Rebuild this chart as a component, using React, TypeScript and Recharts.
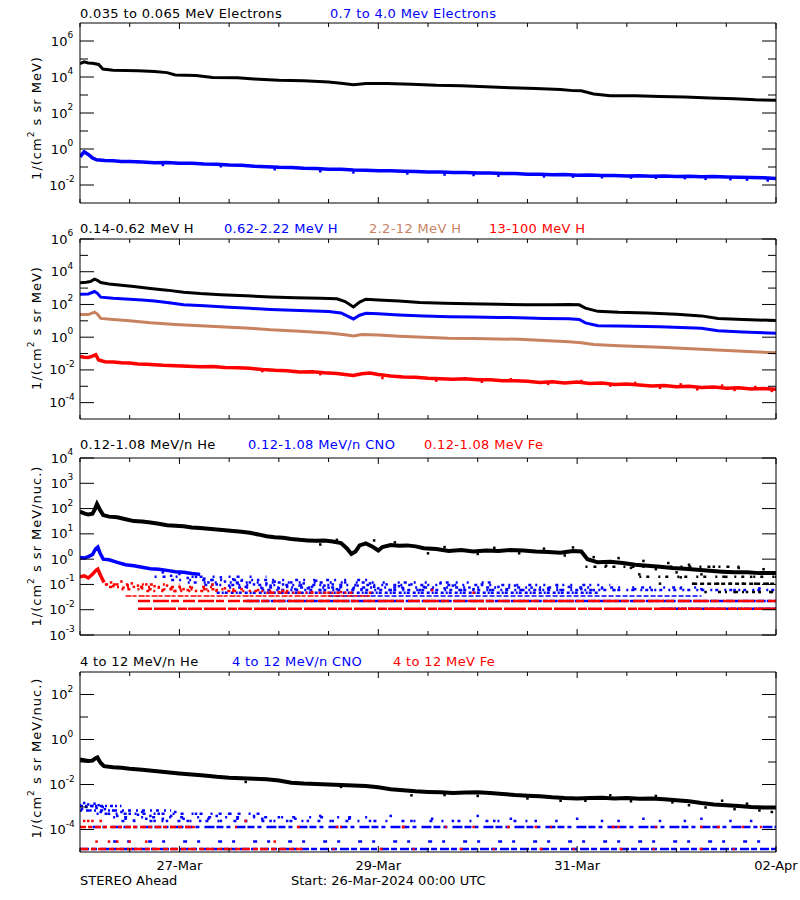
import React from 'react'
import { ComposedChart, Line, Scatter, XAxis, YAxis } from 'recharts'

const FONT = '"DejaVu Sans", Verdana, sans-serif'
const BLUE = '#0000ff'
const RED = '#ff0000'
const TAN = '#c8825f'

// time axis: hours since 26-Mar-2024 00:00
const hourTicks = [0, 12, 24, 36, 48, 60, 72, 84, 96, 108, 120, 132, 144, 156, 168]
const dateTickHours = [24, 72, 120, 168]
const dateTickLabels = ['27-Mar', '29-Mar', '31-Mar', '02-Apr']

// panel 1 - electrons
const elecLoT = [0, 1, 2, 3, 4.5, 5.5, 8, 14, 18, 21, 23, 28, 32, 38, 42, 48, 54, 60, 63, 66, 69, 74, 80, 86, 92, 98, 104, 110, 116, 119, 121, 124, 128, 134, 140, 146, 152, 158, 163, 168]
const elecLoV = [5.5e4, 7e4, 6e4, 5.8e4, 5e4, 2.8e4, 2.4e4, 2.2e4, 2e4, 1.75e4, 1.3e4, 1.2e4, 9.5e3, 9e3, 7.8e3, 6.6e3, 6.2e3, 5.2e3, 4.5e3, 3.7e3, 4.4e3, 4.3e3, 4e3, 3.5e3, 3.3e3, 2.9e3, 2.5e3, 2.3e3, 2.0e3, 1.75e3, 1.7e3, 1.15e3, 920, 900, 820, 780, 680, 620, 540, 510]
const elecHiT = [0, 1, 2, 3, 4, 6, 8, 10, 12, 15, 18, 21, 24, 27, 30, 33, 36, 39, 42, 45, 48, 51, 54, 57, 60, 63, 66, 69, 72, 75, 78, 81, 84, 87, 90, 93, 96, 99, 102, 105, 108, 111, 114, 117, 120, 123, 126, 129, 132, 135, 138, 141, 144, 147, 150, 153, 156, 159, 162, 165, 168]
const elecHiV = [0.37, 0.7, 0.5, 0.32, 0.25, 0.23, 0.22, 0.205, 0.2, 0.19, 0.172, 0.175, 0.16, 0.162, 0.148, 0.142, 0.128, 0.124, 0.11, 0.104, 0.096, 0.094, 0.084, 0.083, 0.075, 0.074, 0.068, 0.067, 0.062, 0.062, 0.058, 0.056, 0.053, 0.052, 0.049, 0.049, 0.046, 0.046, 0.043, 0.043, 0.04, 0.04, 0.037, 0.038, 0.035, 0.036, 0.034, 0.034, 0.032, 0.033, 0.031, 0.032, 0.03, 0.031, 0.029, 0.03, 0.028, 0.027, 0.026, 0.025, 0.023]
const elecHiDotT = [20, 34, 47, 58, 66, 79, 88, 95, 101, 112, 119, 126, 133, 139, 146, 151, 157, 161, 166]
const elecHiDotV = [0.13, 0.11, 0.075, 0.058, 0.05, 0.044, 0.038, 0.036, 0.033, 0.03, 0.029, 0.027, 0.026, 0.025, 0.024, 0.022, 0.021, 0.02, 0.018]

// panel 2 - protons
const hBlackT = [0, 1.5, 2.5, 3.5, 4.2, 5, 7, 10, 13, 17, 21, 25, 29, 34, 40, 46, 52, 58, 62, 64, 66, 67.5, 69, 72, 77, 82, 88, 94, 101, 108, 114, 118, 120.5, 122, 125, 130, 137, 144, 150, 154, 160, 168]
const hBlackV = [2100, 2300, 2500, 3500, 3000, 2200, 1800, 1500, 1250, 950, 750, 560, 460, 390, 340, 290, 260, 240, 220, 150, 70, 140, 210, 190, 160, 130, 120, 112, 102, 95, 96, 100, 95, 60, 38, 33, 30, 25, 20, 14, 12, 10.5]
const hBlueT = [0, 2, 3.5, 4.2, 5, 8, 12, 15, 18, 21, 25, 30, 36, 41, 46, 53, 60, 63, 66, 67.5, 69, 72, 77, 83, 89, 95, 101, 106, 112, 118, 120.5, 122, 125, 130, 140, 150, 154, 160, 168]
const hBlueV = [420, 440, 620, 480, 280, 240, 210, 190, 165, 130, 95, 82, 68, 58, 50, 42, 37, 30, 13, 22, 29, 27, 23, 20, 18, 17, 16, 15.5, 14, 13.5, 12, 7.5, 5, 4.8, 4.4, 3.5, 2.5, 2.1, 1.74]
const hTanT = [0, 2, 3.5, 4.2, 5, 8, 12, 17, 23, 29, 35, 41, 46, 53, 60, 64, 66, 68, 72, 77, 83, 89, 95, 101, 106, 112, 118, 121, 124, 130, 140, 150, 160, 168]
const hTanV = [24, 24, 34, 26, 14, 12, 10, 7.6, 6.0, 5.0, 4.2, 3.5, 2.8, 2.3, 1.8, 1.4, 1.2, 1.45, 1.35, 1.15, 0.98, 0.85, 0.82, 0.78, 0.74, 0.62, 0.52, 0.46, 0.36, 0.3, 0.24, 0.18, 0.14, 0.11]
const hRedT = [0, 1, 2, 3, 3.8, 4.5, 6, 8, 10, 12, 14, 16, 18, 20, 23, 26, 29, 32, 35, 38, 41, 44, 47, 50, 53, 56, 59, 62, 64, 66, 68, 70, 72, 75, 78, 81, 84, 87, 90, 93, 96, 99, 102, 105, 108, 111, 114, 117, 120, 123, 126, 129, 132, 135, 138, 141, 144, 147, 150, 153, 156, 159, 162, 165, 168]
const hRedV = [0.065, 0.06, 0.058, 0.07, 0.085, 0.04, 0.032, 0.03, 0.027, 0.026, 0.023, 0.022, 0.021, 0.019, 0.018, 0.017, 0.0155, 0.016, 0.014, 0.0135, 0.0125, 0.0105, 0.0095, 0.009, 0.0075, 0.0078, 0.0066, 0.006, 0.0052, 0.0046, 0.0058, 0.0064, 0.0052, 0.0043, 0.0037, 0.0036, 0.0031, 0.0029, 0.0027, 0.0029, 0.0025, 0.0025, 0.0022, 0.0022, 0.002, 0.0017, 0.0019, 0.0016, 0.0018, 0.0015, 0.0016, 0.0013, 0.0014, 0.0012, 0.00105, 0.0011, 0.00095, 0.001, 0.00085, 0.0009, 0.00075, 0.0008, 0.00068, 0.00072, 0.00065]
const hRedDotT = [44, 58, 73, 86, 97, 104, 113, 121, 128, 134, 140, 145, 149, 155, 158, 163, 167]
const hRedDotV = [0.0085, 0.0055, 0.0032, 0.0022, 0.0019, 0.0027, 0.0014, 0.0021, 0.0011, 0.0016, 0.0008, 0.0013, 0.00065, 0.0011, 0.0006, 0.0009, 0.00052]

// panel 3 - 0.12-1.08 MeV/n ions
const he3T = [0, 1, 2, 3, 3.6, 4.1, 4.8, 5.6, 7, 9, 11, 13, 15, 17, 19, 21, 23, 25, 27, 29, 31, 33, 35, 37, 39, 41, 43, 45, 47, 49, 51, 53, 55, 57, 59, 61, 63, 64.5, 65.5, 66.5, 67.5, 69, 70.5, 72, 73, 75, 77, 79, 81, 83, 86, 89, 92, 95, 98, 101, 104, 107, 110, 113, 116, 119, 121, 122.5, 125, 128, 131, 134, 137, 140, 143, 146, 149, 152, 155, 158, 161, 164, 168]
const he3V = [75, 65, 58, 62, 95, 150, 90, 55, 48, 45, 38, 32, 31, 28, 25, 22, 21, 20, 18, 17, 16, 15, 14, 13, 12, 11, 9.5, 8, 7.4, 7, 6.3, 5.8, 5.5, 5.3, 5.4, 5.0, 4.3, 2.6, 1.6, 2.0, 3.5, 4.2, 3.2, 2.2, 3.0, 3.6, 3.4, 3.5, 3.2, 2.7, 2.5, 2.1, 2.3, 2.0, 2.2, 2.1, 2.3, 2.2, 2.0, 1.9, 1.8, 2.1, 2.0, 1.0, 0.75, 0.78, 0.7, 0.6, 0.55, 0.5, 0.45, 0.42, 0.38, 0.35, 0.32, 0.3, 0.3, 0.28, 0.28]
const he3DotT = [58, 62, 71, 76, 84, 88, 96, 100, 106, 112, 117, 119, 124, 127, 130, 133, 135, 136, 139, 140, 142, 144, 145, 147, 148, 150, 151, 153, 154, 156, 157, 158, 159, 160, 161, 162, 163, 164, 165, 166, 167, 168]
const he3DotV = [3.8, 5.8, 5.5, 4.6, 1.7, 3.0, 1.6, 2.8, 1.7, 2.6, 1.4, 2.9, 1.2, 0.55, 1.1, 0.45, 0.25, 0.85, 0.4, 0.107, 0.7, 0.3, 0.19, 0.6, 0.107, 0.25, 0.05, 0.5, 0.107, 0.2, 0.107, 0.05, 0.45, 0.107, 0.05, 0.2, 0.107, 0.05, 0.4, 0.107, 0.05, 0.2]
const he3RowLevel = [0.5, 0.2, 0.107, 0.05]
const he3RowStart = [122, 135, 148, 154]
const he3RowEnd = [160, 168, 168, 168]
const cno3T = [0, 1, 2, 3, 3.8, 4.3, 4.8, 5.6, 7, 9, 11, 13, 15, 17, 19, 21, 23, 25, 27, 29]
const cno3V = [1.15, 1.1, 1.25, 1.5, 2.6, 3.0, 1.8, 1.0, 0.95, 0.75, 0.6, 0.55, 0.48, 0.42, 0.4, 0.36, 0.32, 0.3, 0.27, 0.25]
const cno3DotT = [20, 22, 24, 26, 28, 30, 31, 32, 33, 34, 35, 36, 37, 38, 39, 40, 41, 42, 43, 44, 45, 46, 47, 48, 49, 50, 51, 52, 53, 54, 55, 56, 57, 58, 59, 60, 61, 62, 63, 64, 66, 67, 68, 70, 71, 72, 74, 75, 77, 78, 80, 82, 83, 85, 87, 88, 90, 92, 94, 95, 97, 99, 101, 103, 105, 107, 109, 111, 113, 116, 118, 121, 124, 126, 129, 134, 138, 145, 150, 158, 164]
const cno3DotV = [0.3, 0.22, 0.26, 0.18, 0.2, 0.17, 0.12, 0.15, 0.1, 0.19, 0.13, 0.09, 0.16, 0.11, 0.14, 0.08, 0.12, 0.1, 0.15, 0.07, 0.11, 0.09, 0.13, 0.07, 0.1, 0.08, 0.12, 0.065, 0.09, 0.11, 0.07, 0.08, 0.14, 0.06, 0.09, 0.075, 0.1, 0.065, 0.08, 0.12, 0.07, 0.09, 0.065, 0.11, 0.08, 0.07, 0.1, 0.06, 0.085, 0.07, 0.1, 0.06, 0.08, 0.065, 0.11, 0.07, 0.09, 0.06, 0.075, 0.065, 0.1, 0.06, 0.08, 0.065, 0.09, 0.06, 0.075, 0.062, 0.07, 0.06, 0.08, 0.065, 0.06, 0.07, 0.06, 0.065, 0.06, 0.07, 0.065, 0.06, 0.07]
// CNO cloud rows (quantized count levels)
const cno3CloudLevel = [0.2, 0.15, 0.12, 0.095, 0.075, 0.06]
const cno3CloudStart = [18, 22, 26, 30, 36, 44]
const cno3CloudEnd = [45, 70, 100, 128, 150, 168]
const fe3T = [0, 1, 2, 3, 3.8, 4.3, 5, 5.8]
const fe3V = [0.2, 0.22, 0.18, 0.25, 0.35, 0.4, 0.22, 0.12]
const fe3DotT = [6.5, 7.5, 8, 9, 10, 10.5, 11.5, 12.5, 13, 14, 15, 16, 17, 18, 19, 20, 21, 22, 23, 24, 25, 26, 27, 28, 30, 32, 33, 35, 37, 39, 41, 43, 46, 48, 50, 53, 56, 60, 63, 70, 85, 95]
const fe3DotV = [0.1, 0.12, 0.085, 0.1, 0.13, 0.075, 0.095, 0.11, 0.08, 0.09, 0.07, 0.1, 0.065, 0.085, 0.075, 0.06, 0.09, 0.07, 0.055, 0.08, 0.065, 0.06, 0.075, 0.055, 0.065, 0.1, 0.06, 0.07, 0.055, 0.065, 0.055, 0.06, 0.047, 0.05, 0.055, 0.047, 0.05, 0.047, 0.05, 0.047, 0.06, 0.047]
const fe3CloudLevel = [0.1, 0.08, 0.065, 0.055]
const fe3CloudStart = [6, 7, 10, 16]
const fe3CloudEnd = [24, 32, 40, 50]
// count-rate floors that show up as rows of points
const cno3BandLevel = [0.047, 0.035, 0.022, 0.011]
const cno3BandStart = [33, 60, 40, 140]
const cno3BandEnd = [125, 150, 168, 168]
const fe3BandLevel = [0.047, 0.035, 0.022, 0.011]
const fe3BandStart = [45, 11, 14, 14]
const fe3BandEnd = [66, 70, 168, 168]

// panel 4 - 4 to 12 MeV/n ions
const he4T = [0, 1, 2, 3, 3.6, 4.2, 5, 5.8, 8, 10, 12, 15, 18, 21, 24, 27, 30, 33, 36, 39, 42, 45, 48, 51, 54, 57, 60, 63, 66, 69, 72, 75, 78, 81, 84, 87, 90, 93, 96, 99, 102, 105, 108, 111, 114, 117, 120, 123, 126, 129, 132, 135, 138, 141, 144, 147, 150, 153, 156, 159, 162, 165, 168]
const he4V = [0.13, 0.12, 0.11, 0.115, 0.14, 0.16, 0.09, 0.065, 0.058, 0.055, 0.05, 0.045, 0.04, 0.035, 0.031, 0.028, 0.025, 0.022, 0.02, 0.019, 0.018, 0.017, 0.015, 0.012, 0.011, 0.0105, 0.01, 0.0095, 0.009, 0.0085, 0.0075, 0.0062, 0.0055, 0.005, 0.0047, 0.0045, 0.0042, 0.0044, 0.0045, 0.0042, 0.0038, 0.0034, 0.0032, 0.003, 0.0027, 0.0025, 0.0024, 0.0025, 0.0026, 0.0024, 0.0025, 0.0023, 0.0024, 0.0022, 0.002, 0.0018, 0.0015, 0.0013, 0.0012, 0.0011, 0.001, 0.00095, 0.00095]
const he4DotT = [40, 63, 80, 88, 96, 108, 116, 122, 128, 133, 139, 143, 147, 151, 155, 158, 161, 164, 167]
const he4DotV = [0.013, 0.0078, 0.0033, 0.0034, 0.0031, 0.0024, 0.0019, 0.0019, 0.0033, 0.0018, 0.0031, 0.0016, 0.0012, 0.00095, 0.0019, 0.0008, 0.0014, 0.0007, 0.0006]
const cno4DotT = [0, 0.5, 1, 1.5, 2, 2.5, 3, 3.5, 4, 4.5, 5, 5.5, 6, 7, 8, 9, 10, 11, 12, 13, 14, 15, 16, 17, 18, 19, 20, 21, 22, 23, 25, 26, 28, 29, 31, 33, 34, 36, 38, 40, 42, 44, 46, 48, 50, 52, 55, 58, 61, 65, 70, 75, 80, 85, 90, 96, 100, 104, 110, 115, 120, 126, 130, 136, 140, 146, 150, 157, 162]
const cno4DotV = [1.2e-3, 8e-4, 1.5e-3, 1.0e-3, 1.3e-3, 7e-4, 1.1e-3, 1.4e-3, 9e-4, 1.2e-3, 6e-4, 1.0e-3, 8e-4, 5e-4, 7e-4, 4e-4, 6e-4, 3e-4, 5e-4, 2.5e-4, 4.5e-4, 6e-4, 3e-4, 4e-4, 2.4e-4, 5e-4, 3e-4, 2.4e-4, 4e-4, 6e-4, 3e-4, 2.4e-4, 5e-4, 2.4e-4, 3e-4, 4e-4, 2.4e-4, 5e-4, 3e-4, 2.4e-4, 4e-4, 3e-4, 2.4e-4, 3.5e-4, 2.4e-4, 3e-4, 2.4e-4, 4e-4, 2.4e-4, 3e-4, 2.4e-4, 4e-4, 2.4e-4, 3e-4, 2.4e-4, 4e-4, 2.4e-4, 3e-4, 2.4e-4, 2.4e-4, 3e-4, 2.4e-4, 2.4e-4, 3e-4, 2.4e-4, 2.4e-4, 3e-4, 2.4e-4, 2.4e-4]
const cno4CloudLevel = [1.1e-3, 7e-4, 5e-4, 3.5e-4]
const cno4CloudStart = [0, 0, 4, 8]
const cno4CloudEnd = [10, 22, 45, 70]
const fe4DotT = [1, 2, 3, 4, 5, 7, 9, 12, 16, 22, 40, 47, 62, 78, 95, 110, 130, 150, 160]
const fe4DotV = [2.4e-4, 2.4e-4, 2.4e-4, 2.9e-5, 2.4e-4, 2.9e-5, 2.9e-5, 2.9e-5, 2.9e-5, 1.3e-4, 2.4e-4, 2.9e-5, 1.3e-4, 1.3e-4, 1.3e-4, 1.3e-4, 1.3e-4, 1.3e-4, 1.3e-4]
const cno4BandLevel = [2.4e-4, 1.3e-4, 2.9e-5, 1.35e-5]
const cno4BandStart = [10, 3, 8, 0]
const cno4BandEnd = [110, 168, 168, 168]
const fe4BandLevel = [1.3e-4, 1.3e-4, 1.35e-5, 1.35e-5]
const fe4BandStart = [0, 27, 0, 53]
const fe4BandEnd = [27, 168, 53, 168]

// y axes: decades shown, and which of them carry a label
const p1Exps = [-2, -1, 0, 1, 2, 3, 4, 5, 6]
const p1Labeled = [-2, 0, 2, 4, 6]
const p2Exps = [-4, -3, -2, -1, 0, 1, 2, 3, 4, 5, 6]
const p2Labeled = [-4, -2, 0, 2, 4, 6]
const p3Exps = [-3, -2, -1, 0, 1, 2, 3, 4]
const p3Labeled = [-3, -2, -1, 0, 1, 2, 3, 4]
const p4Exps = [-4, -3, -2, -1, 0, 1, 2]
const p4Labeled = [-4, -2, 0, 2]

const p1Titles = ['0.035 to 0.065 MeV Electrons', '0.7 to 4.0 Mev Electrons']
const p2Titles = ['0.14-0.62 MeV H', '0.62-2.22 MeV H', '2.2-12 MeV H', '13-100 MeV H']
const p3Titles = ['0.12-1.08 MeV/n He', '0.12-1.08 MeV/n CNO', '0.12-1.08 MeV Fe']
const p4Titles = ['4 to 12 MeV/n He', '4 to 12 MeV/n CNO', '4 to 12 MeV Fe']

type Pt = { t: number; v: number }
const pts = (t: number[], v: number[]): Pt[] => t.map((x, i) => ({ t: x, v: v[i] }))

const PL = 80
const PR = 776
const TOP_H = 12

const line = (key: string, data: Pt[], color: string, w = 3) => (
  <Line key={key} xAxisId="b" yAxisId="l" data={data} dataKey="v" type="linear" stroke={color}
    strokeWidth={w} dot={false} activeDot={false} isAnimationActive={false} />
)

const dots = (key: string, data: Pt[], color: string, size = 2) => (
  <Scatter key={key} xAxisId="b" yAxisId="l" data={data} dataKey="v" fill={color} isAnimationActive={false}
    shape={(p: any) => <rect x={p.cx - size / 2} y={p.cy - size / 2} width={size} height={size} fill={color} />} />
)

const band = (key: string, level: number, start: number, end: number, color: string, dash: string, w = 2.5) => (
  <Line key={key} xAxisId="b" yAxisId="l" data={[{ t: start, v: level }, { t: end, v: level }]} dataKey="v"
    stroke={color} strokeWidth={w} strokeDasharray={dash} dot={false} activeDot={false} isAnimationActive={false} />
)

const rows = (key: string, levels: number[], starts: number[], ends: number[], color: string, dashes: string[], w = 2.5) =>
  levels.map((lv, i) => band(`${key}${i}`, lv, starts[i], ends[i], color, dashes[i % dashes.length], w))

const leftTick = (labeled: number[]) => (p: any) => {
  const e = Math.round(Math.log10(p.payload.value))
  const major = labeled.includes(e)
  return (
    <g>
      <line x1={PL} x2={PL + (major ? 14 : 8)} y1={p.y} y2={p.y} stroke="#000" />
      {major && (
        <text x={62} y={p.y} textAnchor="middle" dominantBaseline="central" fontSize={13} fontFamily={FONT} fill="#000">
          10<tspan dy={-6} fontSize={9}>{e}</tspan>
        </text>
      )}
    </g>
  )
}

const rightTick = (labeled: number[]) => (p: any) => {
  const e = Math.round(Math.log10(p.payload.value))
  const len = labeled.includes(e) ? 14 : 8
  return <line x1={PR - len} x2={PR} y1={p.y} y2={p.y} stroke="#000" />
}

const topTick = (p: any) => {
  const t = p.payload.value
  const len = dateTickHours.includes(t) ? 6 : 4
  return <line x1={p.x} x2={p.x} y1={TOP_H} y2={TOP_H + len} stroke="#000" />
}

const bottomTick = (bottom: number, showDates: boolean) => (p: any) => {
  const t = p.payload.value
  const i = dateTickHours.indexOf(t)
  const len = i >= 0 ? 6 : 4
  return (
    <g>
      <line x1={p.x} x2={p.x} y1={bottom} y2={bottom - len} stroke="#000" />
      {showDates && i >= 0 && (
        <text x={p.x} y={bottom + 18} textAnchor="middle" fontSize={13} fontFamily={FONT} fill="#000">
          {dateTickLabels[i]}
        </text>
      )}
    </g>
  )
}

type PanelProps = {
  top: number
  height: number
  exps: number[]
  labeled: number[]
  domain: [number, number]
  showDates?: boolean
  children: React.ReactNode
}

function Panel({ top, height, exps, labeled, domain, showDates = false, children }: PanelProps) {
  const bottomH = showDates ? 40 : 12
  const ticks = exps.map((e) => Math.pow(10, e))
  return (
    <div style={{ position: 'absolute', left: 0, top: top - TOP_H }}>
      <ComposedChart width={800} height={height + TOP_H + bottomH} margin={{ top: 0, right: 0, bottom: 0, left: 0 }}>
        <XAxis xAxisId="b" dataKey="t" type="number" domain={[0, 168]} ticks={hourTicks} interval={0}
          orientation="bottom" height={bottomH} allowDataOverflow stroke="#000" tickLine={false}
          tick={bottomTick(TOP_H + height, showDates)} />
        <XAxis xAxisId="t" dataKey="t" type="number" domain={[0, 168]} ticks={hourTicks} interval={0}
          orientation="top" height={TOP_H} allowDataOverflow stroke="#000" tickLine={false} tick={topTick} />
        <YAxis yAxisId="l" scale="log" type="number" domain={domain} ticks={ticks} interval={0} width={PL}
          allowDataOverflow stroke="#000" tickLine={false} tickSize={0} tick={leftTick(labeled)} />
        <YAxis yAxisId="r" orientation="right" scale="log" type="number" domain={domain} ticks={ticks} interval={0}
          width={800 - PR} allowDataOverflow stroke="#000" tickLine={false} tickSize={0} tick={rightTick(labeled)} />
        {children}
      </ComposedChart>
    </div>
  )
}

const titleRow = (y: number, labels: string[], xs: number[], colors: string[]) =>
  labels.map((s, i) => (
    <text key={s} x={xs[i]} y={y} fontSize={13} letterSpacing={0.35} fill={colors[i]}>{s}</text>
  ))

const yLabel = (cy: number, unit: string) => (
  <text transform={`translate(36 ${cy}) rotate(-90)`} textAnchor="middle" dominantBaseline="central"
    fontSize={13} letterSpacing={1}>
    1/(cm<tspan dy={-5} fontSize={9}>2</tspan><tspan dy={5}> s sr {unit})</tspan>
  </text>
)

const cloudDash = ['2 6 3 10 2 14', '3 5 2 8 2 11', '2 4 3 7 2 9 2 13', '3 4 2 6 2 10', '2 7 3 5 2 12', '2 3 3 6']

export default function App() {
  return (
    <div style={{ position: 'absolute', left: 0, top: 0, width: 800, height: 900, background: '#fff', fontFamily: FONT }}>
      <Panel top={23} height={180} exps={p1Exps} labeled={p1Labeled} domain={[1e-3, 1e7]}>
        {line('eLo', pts(elecLoT, elecLoV), '#000')}
        {line('eHi', pts(elecHiT, elecHiV), BLUE, 3.5)}
        {dots('eHiD', pts(elecHiDotT, elecHiDotV), BLUE, 2.5)}
      </Panel>

      <Panel top={239} height={180} exps={p2Exps} labeled={p2Labeled} domain={[1e-5, 1e6]}>
        {line('hK', pts(hBlackT, hBlackV), '#000')}
        {line('hB', pts(hBlueT, hBlueV), BLUE)}
        {line('hT', pts(hTanT, hTanV), TAN)}
        {line('hR', pts(hRedT, hRedV), RED, 3.5)}
        {dots('hRD', pts(hRedDotT, hRedDotV), RED, 2.5)}
      </Panel>

      <Panel top={458} height={177} exps={p3Exps} labeled={p3Labeled} domain={[1e-3, 1e4]}>
        {band('cb0', cno3BandLevel[0], cno3BandStart[0], cno3BandEnd[0], BLUE, '3 2 2 1 3 3')}
        {band('cb1', cno3BandLevel[1], cno3BandStart[1], cno3BandEnd[1], BLUE, '5 2', 1.5)}
        {band('cb2', cno3BandLevel[2], cno3BandStart[2], cno3BandEnd[2], BLUE, '8 1 5 2')}
        {band('cb3', cno3BandLevel[3], cno3BandStart[3], cno3BandEnd[3], BLUE, '6 1')}
        {rows('cc', cno3CloudLevel, cno3CloudStart, cno3CloudEnd, BLUE, cloudDash)}
        {band('fb0', fe3BandLevel[0], fe3BandStart[0], fe3BandEnd[0], RED, '2 3 3 5')}
        {band('fb1', fe3BandLevel[1], fe3BandStart[1], fe3BandEnd[1], RED, '6 1 4 2', 1.5)}
        {band('fb2', fe3BandLevel[2], fe3BandStart[2], fe3BandEnd[2], RED, '12 3 16 2 8 4')}
        {band('fb3', fe3BandLevel[3], fe3BandStart[3], fe3BandEnd[3], RED, '14 2 22 2 9 1')}
        {rows('fc', fe3CloudLevel, fe3CloudStart, fe3CloudEnd, RED, cloudDash)}
        {dots('cd', pts(cno3DotT, cno3DotV), BLUE, 2.5)}
        {line('cl', pts(cno3T, cno3V), BLUE, 3.5)}
        {dots('fd', pts(fe3DotT, fe3DotV), RED, 2.5)}
        {line('fl', pts(fe3T, fe3V), RED, 3.5)}
        {rows('hr', he3RowLevel, he3RowStart, he3RowEnd, '#000', ['2 6 3 8', '2 5 3 9', '4 3', '3 4 2 8'])}
        {dots('hd', pts(he3DotT, he3DotV), '#000', 2.5)}
        {line('hl', pts(he3T, he3V), '#000', 4)}
      </Panel>

      <Panel top={672} height={180} exps={p4Exps} labeled={p4Labeled} domain={[1e-5, 1e3]} showDates>
        {band('cb0', cno4BandLevel[0], cno4BandStart[0], cno4BandEnd[0], BLUE, '3 9 2 14')}
        {band('cb1', cno4BandLevel[1], cno4BandStart[1], cno4BandEnd[1], BLUE, '7 3 4 5 10 2')}
        {band('cb2', cno4BandLevel[2], cno4BandStart[2], cno4BandEnd[2], BLUE, '4 10 3 18')}
        {band('cb3', cno4BandLevel[3], cno4BandStart[3], cno4BandEnd[3], BLUE, '9 2 6 3')}
        {rows('cc', cno4CloudLevel, cno4CloudStart, cno4CloudEnd, BLUE, ['3 2 2 3', '2 4 3 5', '2 6 3 8', '2 9 3 14'])}
        {band('fb0', fe4BandLevel[0], fe4BandStart[0], fe4BandEnd[0], RED, '6 2 4 3')}
        {band('fb1', fe4BandLevel[1], fe4BandStart[1], fe4BandEnd[1], RED, '3 40 2 60')}
        {band('fb2', fe4BandLevel[2], fe4BandStart[2], fe4BandEnd[2], RED, '8 3 5 2')}
        {band('fb3', fe4BandLevel[3], fe4BandStart[3], fe4BandEnd[3], RED, '3 30 2 45')}
        {dots('cd', pts(cno4DotT, cno4DotV), BLUE, 2.5)}
        {dots('fd', pts(fe4DotT, fe4DotV), RED, 2.5)}
        {dots('hd', pts(he4DotT, he4DotV), '#000', 2.5)}
        {line('hl', pts(he4T, he4V), '#000', 4)}
      </Panel>

      <svg width={800} height={900} style={{ position: 'absolute', left: 0, top: 0, pointerEvents: 'none' }}
        fontFamily={FONT}>
        {titleRow(18, p1Titles, [80, 330], ['#000', BLUE])}
        {titleRow(233, p2Titles, [80, 224, 369, 489], ['#000', BLUE, TAN, RED])}
        {titleRow(449, p3Titles, [80, 248, 424], ['#000', BLUE, RED])}
        {titleRow(666, p4Titles, [80, 232, 393], ['#000', BLUE, RED])}
        {yLabel(118, 'MeV')}
        {yLabel(328, 'MeV')}
        {yLabel(546, 'MeV/nuc.')}
        {yLabel(758, 'MeV/nuc.')}
        <text x={80} y={885} fontSize={13}>STEREO Ahead</text>
        <text x={291} y={885} fontSize={13}>Start: 26-Mar-2024 00:00 UTC</text>
      </svg>
    </div>
  )
}
